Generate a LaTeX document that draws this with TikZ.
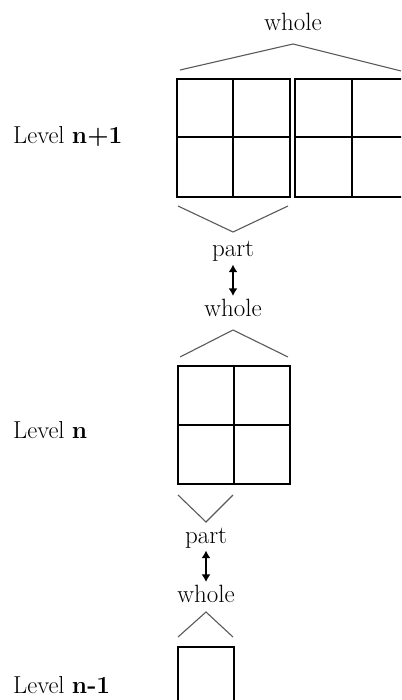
\documentclass[tikz,border=0pt]{standalone}
\usetikzlibrary{arrows.meta}
\begin{document}
\begin{tikzpicture}[x=1pt,y=-1pt,
  gridline/.style={line width=1.8pt,black},
  chev/.style={line width=1.1pt,black!65},
  lbl/.style={font=\fontsize{25}{30}\selectfont,inner sep=0pt,anchor=base},
  lvl/.style={font=\fontsize{24.5}{30}\selectfont,inner sep=0pt,anchor=base west},
  updown/.style={{Latex[length=7.5pt,width=9pt]}-{Latex[length=7.5pt,width=9pt]},line width=2.4pt,shorten <=2.5pt,shorten >=2.5pt}]
\useasboundingbox (0,0) rectangle (401,700);
\clip (0,0) rectangle (401,700);
% level labels
\node[lvl] (L1) at (13,144) {Level \textbf{n+1}};
\node[lvl] (L2) at (13,438) {Level \textbf{n}};
\node[lvl] (L3) at (13,693) {Level \textbf{n-1}};
% top
\node[lbl] (w1) at (293,31) {whole};
\draw[chev] (180,70) -- (293,44) -- (401,71);
\draw[gridline] (177,79) rectangle (290,197) (233,79) -- (233,197) (177,137) -- (290,137);
\draw[gridline] (295,79) rectangle (408,197) (352,79) -- (352,197) (295,137) -- (408,137);
\draw[chev] (178,206) -- (233,232) -- (288,206);
\node[lbl] (p1) at (233,257) {part};
\node[lbl] (w2) at (233,316) {whole};
\draw[updown] (p1) -- (w2);
% level n
\draw[chev] (180,357) -- (233,330) -- (288,357);
\draw[gridline] (178,366) rectangle (290,484) (234,366) -- (234,484) (178,425) -- (290,425);
\draw[chev] (178,495) -- (206,522) -- (233,495);
\node[lbl] (p2) at (206,543) {part};
\node[lbl] (w3) at (206,602) {whole};
\draw[updown] (p2) -- (w3);
% level n-1
\draw[chev] (178,637) -- (206,612) -- (233,637);
\draw[gridline] (178,647) rectangle (234,712);
\end{tikzpicture}
\end{document}
